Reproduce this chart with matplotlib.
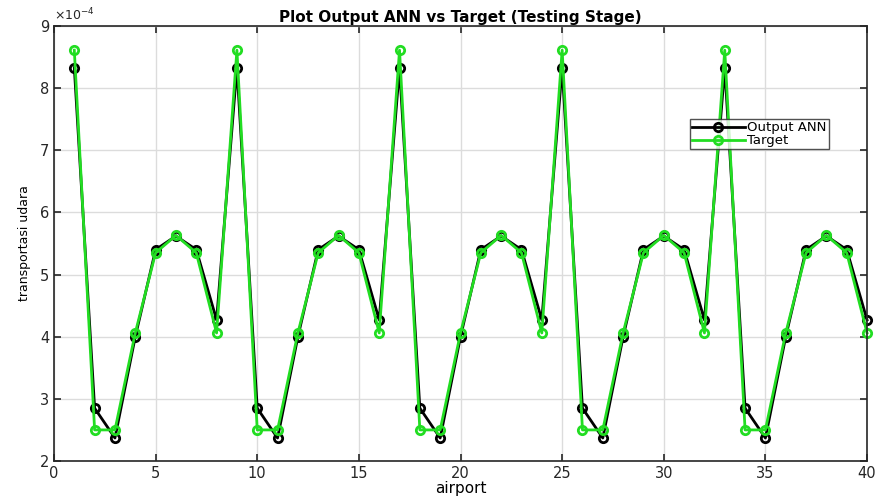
import numpy as np
import matplotlib.pyplot as plt

plt.rcParams['font.family'] = ['DejaVu Sans']

airport = np.arange(1, 41)

# values in units of 1e-4
output_ann = [8.33, 2.85, 2.37, 4.00, 5.40, 5.62, 5.40, 4.27,
              8.33, 2.85, 2.37, 4.00, 5.40, 5.62, 5.40, 4.27,
              8.33, 2.85, 2.37, 4.00, 5.40, 5.62, 5.40, 4.27,
              8.33, 2.85, 2.37, 4.00, 5.40, 5.62, 5.40, 4.27,
              8.33, 2.85, 2.37, 4.00, 5.40, 5.62, 5.40, 4.27]
target = [8.61, 2.50, 2.50, 4.06, 5.35, 5.63, 5.35, 4.06,
          8.61, 2.50, 2.50, 4.06, 5.35, 5.63, 5.35, 4.06,
          8.61, 2.50, 2.50, 4.06, 5.35, 5.63, 5.35, 4.06,
          8.61, 2.50, 2.50, 4.06, 5.35, 5.63, 5.35, 4.06,
          8.61, 2.50, 2.50, 4.06, 5.35, 5.63, 5.35, 4.06]

fig = plt.figure(figsize=(8.79, 5.03), dpi=100)
ax = fig.add_axes([0.0614, 0.0835, 0.925, 0.865])

ax.plot(airport, output_ann, color='black', linewidth=2, marker='o',
        markersize=6, markerfacecolor='none', markeredgewidth=2,
        label='Output ANN', clip_on=False)
ax.plot(airport, target, color='#22dd22', linewidth=2, marker='o',
        markersize=6, markerfacecolor='none', markeredgewidth=2,
        label='Target', clip_on=False)

ax.set_xlim(0, 40)
ax.set_ylim(2, 9)
ax.set_xticks(np.arange(0, 41, 5))
ax.set_yticks(np.arange(2, 10, 1))
ax.grid(True, color='#dcdcdc', linewidth=1)
ax.set_axisbelow(True)
for s in ax.spines.values():
    s.set_color('#262626')
    s.set_linewidth(1.2)
ax.tick_params(direction='in', top=True, right=True, labelsize=10.5,
               colors='#262626', length=5, width=1.2)

ax.text(0.0, 1.005, r'$\times 10^{-4}$', transform=ax.transAxes,
        fontsize=9, color='#262626', va='bottom', ha='left')
ax.set_title('Plot Output ANN vs Target (Testing Stage)', fontsize=11,
             fontweight='bold', pad=3)
ax.set_xlabel('airport', fontsize=11, labelpad=0)
ax.set_ylabel('transportasi udara', fontsize=9, labelpad=6)

leg = ax.legend(loc='upper left', bbox_to_anchor=(0.782, 0.785), fontsize=9.5,
                frameon=True, fancybox=False, borderpad=0.15, labelspacing=0.0,
                handlelength=4.0, handletextpad=0.2, borderaxespad=0)
leg.get_frame().set_edgecolor('#262626')
leg.get_frame().set_linewidth(1)

fig.savefig('out.png', dpi=100)
